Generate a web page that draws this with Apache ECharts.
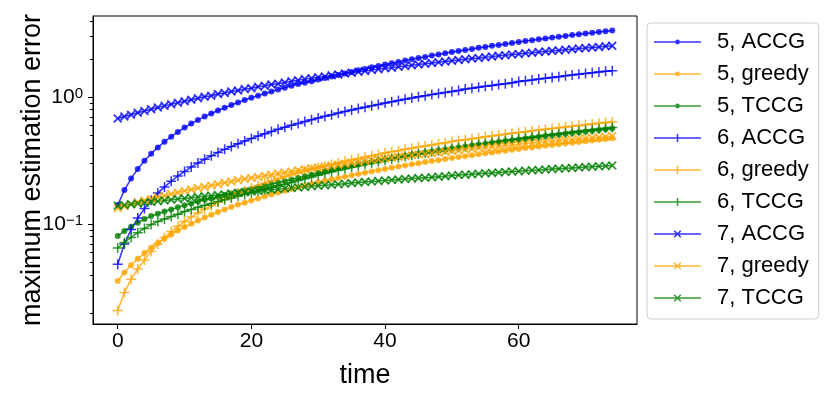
<!DOCTYPE html>
<html>
<head>
<meta charset="utf-8">
<script src="https://cdn.jsdelivr.net/npm/echarts@6/dist/echarts.min.js"></script>
<style>
  html, body { margin: 0; padding: 0; background: #fff; }
  #chart { width: 828px; height: 396px; }
</style>
</head>
<body>
<div id="chart"></div>
<script>
// series values, one per time step t = 0..74
const accg5 = [0.142,0.186,0.229,0.273,0.316,0.36,0.403,0.447,0.49,0.534,0.577,0.621,0.664,0.705,0.746,0.787,0.828,0.869,0.910,0.951,0.992,1.03,1.07,1.11,1.15,1.19,1.23,1.27,1.30,1.34,1.38,1.42,1.46,1.50,1.54,1.58,1.63,1.67,1.72,1.76,1.81,1.85,1.90,1.95,1.99,2.04,2.08,2.13,2.17,2.22,2.27,2.31,2.36,2.40,2.45,2.49,2.54,2.58,2.63,2.68,2.72,2.77,2.81,2.86,2.90,2.95,2.99,3.04,3.09,3.13,3.18,3.22,3.27,3.31,3.36]
const greedy5 = [0.0358,0.0417,0.0477,0.0536,0.0595,0.0655,0.0714,0.0773,0.0832,0.0892,0.0951,0.101,0.107,0.113,0.119,0.125,0.131,0.137,0.143,0.148,0.154,0.160,0.166,0.172,0.178,0.184,0.190,0.196,0.202,0.208,0.214,0.220,0.226,0.232,0.237,0.243,0.249,0.255,0.261,0.267,0.273,0.279,0.285,0.291,0.297,0.303,0.309,0.315,0.320,0.326,0.332,0.338,0.344,0.350,0.356,0.362,0.368,0.374,0.380,0.386,0.392,0.398,0.403,0.409,0.415,0.421,0.427,0.433,0.439,0.445,0.451,0.457,0.463,0.469,0.475]
const tccg5 = [0.081,0.0884,0.0958,0.103,0.110,0.116,0.121,0.126,0.131,0.136,0.141,0.146,0.151,0.156,0.160,0.165,0.170,0.175,0.180,0.185,0.190,0.196,0.202,0.208,0.213,0.219,0.225,0.232,0.239,0.246,0.253,0.260,0.268,0.275,0.282,0.289,0.296,0.303,0.310,0.317,0.324,0.331,0.339,0.346,0.353,0.360,0.367,0.374,0.381,0.388,0.395,0.402,0.410,0.417,0.424,0.431,0.438,0.445,0.452,0.459,0.466,0.473,0.481,0.488,0.495,0.502,0.509,0.516,0.523,0.530,0.537,0.544,0.552,0.559,0.568]
const accg6 = [0.0484,0.070,0.091,0.112,0.133,0.155,0.176,0.197,0.218,0.240,0.261,0.282,0.304,0.325,0.346,0.368,0.389,0.410,0.431,0.453,0.474,0.495,0.517,0.538,0.559,0.581,0.602,0.623,0.644,0.666,0.687,0.708,0.730,0.751,0.772,0.794,0.815,0.836,0.857,0.879,0.900,0.921,0.943,0.964,0.985,1.01,1.03,1.05,1.07,1.09,1.11,1.13,1.16,1.18,1.20,1.22,1.24,1.26,1.28,1.30,1.33,1.35,1.37,1.39,1.41,1.43,1.45,1.48,1.50,1.52,1.54,1.56,1.58,1.60,1.62]
const greedy6 = [0.021,0.029,0.037,0.0445,0.0524,0.0612,0.070,0.0788,0.0876,0.0964,0.105,0.114,0.123,0.132,0.140,0.149,0.158,0.167,0.176,0.184,0.193,0.202,0.211,0.220,0.228,0.237,0.246,0.254,0.263,0.271,0.280,0.288,0.296,0.305,0.313,0.322,0.330,0.338,0.347,0.355,0.364,0.372,0.380,0.389,0.397,0.406,0.414,0.422,0.431,0.439,0.448,0.456,0.464,0.472,0.480,0.488,0.496,0.504,0.512,0.520,0.528,0.536,0.544,0.552,0.560,0.568,0.576,0.584,0.592,0.600,0.608,0.616,0.624,0.632,0.640]
const tccg6 = [0.065,0.072,0.0789,0.0859,0.0928,0.0995,0.105,0.110,0.115,0.120,0.126,0.131,0.136,0.141,0.146,0.151,0.156,0.161,0.167,0.172,0.177,0.183,0.189,0.195,0.201,0.207,0.213,0.221,0.228,0.236,0.243,0.251,0.259,0.266,0.274,0.281,0.289,0.297,0.304,0.312,0.319,0.327,0.334,0.342,0.350,0.357,0.365,0.373,0.380,0.388,0.395,0.403,0.410,0.418,0.426,0.433,0.441,0.448,0.456,0.464,0.471,0.479,0.486,0.494,0.502,0.509,0.517,0.524,0.532,0.540,0.547,0.555,0.562,0.570,0.578]
const accg7 = [0.680,0.705,0.730,0.756,0.781,0.806,0.831,0.856,0.882,0.907,0.932,0.957,0.982,1.01,1.03,1.06,1.08,1.11,1.13,1.16,1.18,1.21,1.23,1.26,1.28,1.31,1.34,1.36,1.39,1.41,1.44,1.46,1.49,1.51,1.54,1.56,1.59,1.61,1.64,1.66,1.69,1.71,1.74,1.76,1.79,1.81,1.84,1.86,1.89,1.91,1.94,1.97,1.99,2.02,2.04,2.07,2.09,2.12,2.14,2.17,2.19,2.22,2.24,2.27,2.29,2.32,2.34,2.37,2.39,2.42,2.44,2.47,2.49,2.52,2.54]
const greedy7 = [0.134,0.139,0.144,0.149,0.154,0.158,0.163,0.168,0.173,0.178,0.183,0.188,0.193,0.197,0.202,0.207,0.212,0.217,0.222,0.227,0.232,0.236,0.241,0.246,0.251,0.256,0.261,0.266,0.271,0.276,0.280,0.285,0.290,0.295,0.300,0.305,0.310,0.315,0.319,0.324,0.329,0.334,0.339,0.344,0.349,0.354,0.358,0.363,0.368,0.373,0.378,0.383,0.388,0.393,0.398,0.402,0.407,0.412,0.417,0.422,0.427,0.432,0.437,0.441,0.446,0.451,0.456,0.461,0.466,0.471,0.476,0.480,0.485,0.490,0.495]
const tccg7 = [0.140,0.142,0.144,0.146,0.148,0.150,0.152,0.154,0.156,0.158,0.160,0.162,0.164,0.166,0.168,0.170,0.172,0.175,0.177,0.179,0.181,0.183,0.185,0.187,0.189,0.191,0.193,0.195,0.197,0.199,0.201,0.203,0.205,0.207,0.209,0.211,0.213,0.215,0.217,0.219,0.221,0.223,0.225,0.227,0.229,0.231,0.233,0.235,0.237,0.239,0.242,0.244,0.246,0.248,0.250,0.252,0.254,0.256,0.258,0.260,0.262,0.264,0.266,0.268,0.270,0.272,0.274,0.276,0.278,0.280,0.282,0.284,0.286,0.288,0.290]

const xTicks = [0, 20, 40, 60]
const yMajor = [0.1, 1]
const yMinor = [0.02,0.03,0.04,0.05,0.06,0.07,0.08,0.09,0.2,0.3,0.4,0.5,0.6,0.7,0.8,0.9,2,3,4]

const BLUE = '#0000ff', ORANGE = '#ffa500', GREEN = '#008000'
const FONT = '"Liberation Sans", Arial, Helvetica, sans-serif'

const PLUS = 'path://M4.25,0H5.75V4.25H10V5.75H5.75V10H4.25V5.75H0V4.25H4.25Z'
const CROSS = 'path://M0,1.4L1.4,0L5,3.6L8.6,0L10,1.4L6.4,5L10,8.6L8.6,10L5,6.4L1.4,10L0,8.6L3.6,5Z'
// legend icons: line + marker, padded to 58 wide so text starts where it should
const ICON_DOT = 'path://M0,6.25H21.2V7.75H0Z M25.8,6.25H47V7.75H25.8Z M21.1,7a2.4,2.4 0 1,1 4.8,0a2.4,2.4 0 1,1 -4.8,0Z M58,7L58,7.01'
const ICON_PLUS = 'path://M0,6.25H47V7.75H0Z M22.75,3H24.25V6.25H22.75Z M22.75,7.75H24.25V11H22.75Z M58,7L58,7.01'
const ICON_X = 'path://M0,6.25H22.6V7.75H0Z M24.4,6.25H47V7.75H24.4Z M19.7,4.3L20.8,3.2L23.5,5.9L26.2,3.2L27.3,4.3L24.6,7L27.3,9.7L26.2,10.8L23.5,8.1L20.8,10.8L19.7,9.7L22.4,7Z M58,7L58,7.01'

const names = ['5, ACCG', '5, greedy', '5, TCCG', '6, ACCG', '6, greedy', '6, TCCG', '7, ACCG', '7, greedy', '7, TCCG']
const values = [accg5, greedy5, tccg5, accg6, greedy6, tccg6, accg7, greedy7, tccg7]
const colors = [BLUE, ORANGE, GREEN, BLUE, ORANGE, GREEN, BLUE, ORANGE, GREEN]
const marks = [
  { symbol: 'circle', size: 6, icon: ICON_DOT },
  { symbol: PLUS, size: 10, icon: ICON_PLUS },
  { symbol: CROSS, size: 9, icon: ICON_X }
]

const series = values.map((arr, k) => {
  const m = marks[Math.floor(k / 3)]
  return {
    name: names[k],
    type: 'line',
    data: arr.map((v, i) => [i, v]),
    symbol: m.symbol,
    symbolSize: m.size,
    showSymbol: true,
    showAllSymbol: true,
    color: colors[k],
    lineStyle: { width: 1.5, opacity: 0.8 },
    itemStyle: { color: colors[k], opacity: 0.8 },
    emphasis: { disabled: true }
  }
})

const chart = echarts.init(document.getElementById('chart'))
chart.setOption({
  animation: false,
  textStyle: { fontFamily: FONT },
  grid: {
    left: 93, top: 16, width: 544, height: 308,
    outerBoundsMode: 'none', containLabel: false,
    show: true, borderColor: '#000', borderWidth: 1
  },
  legend: {
    orient: 'vertical',
    left: 647, top: 23,
    padding: [8, 10, 10, 7],
    itemWidth: 58, itemHeight: 14, itemGap: 10,
    borderColor: '#cccccc', borderWidth: 1, borderRadius: 4,
    backgroundColor: '#fff',
    textStyle: { fontSize: 22, color: '#000', fontFamily: FONT },
    data: names.map((n, k) => ({ name: n, icon: marks[Math.floor(k / 3)].icon }))
  },
  xAxis: {
    type: 'value', min: -3.7, max: 77.7,
    name: 'time', nameLocation: 'middle', nameGap: 38, nameMoveOverlap: false,
    nameTextStyle: { fontSize: 27, color: '#000', fontFamily: FONT },
    axisLine: { onZero: false, lineStyle: { color: '#000', width: 1 } },
    axisTick: { customValues: xTicks, length: 5, lineStyle: { color: '#000' } },
    axisLabel: { customValues: xTicks, fontSize: 21, color: '#000', margin: 7, fontFamily: FONT },
    splitLine: { show: false }
  },
  yAxis: [
    {
      type: 'log', min: 0.01641, max: 4.365,
      name: 'maximum estimation error', nameLocation: 'middle', nameGap: 47, nameMoveOverlap: false,
      nameTextStyle: { fontSize: 27, color: '#000', fontFamily: FONT },
      axisLine: { show: true, onZero: false, lineStyle: { color: '#000', width: 1 } },
      axisTick: { customValues: yMajor, length: 5, lineStyle: { color: '#000' } },
      axisLabel: {
        customValues: yMajor, margin: 10, color: '#000',
        formatter: v => (v >= 1 ? '{b|10}{s|0}' : '{b|10}{s|\u22121}'),
        rich: {
          b: { fontSize: 21, color: '#000', fontFamily: FONT },
          s: { fontSize: 15, color: '#000', fontFamily: FONT, verticalAlign: 'top' }
        }
      },
      splitLine: { show: false }
    },
    {
      type: 'log', min: 0.01641, max: 4.365, position: 'left',
      axisLine: { show: false, onZero: false },
      axisTick: { customValues: yMinor, length: 3, lineStyle: { color: '#000' } },
      axisLabel: { show: false },
      splitLine: { show: false }
    }
  ],
  series: series
})
</script>
</body>
</html>
